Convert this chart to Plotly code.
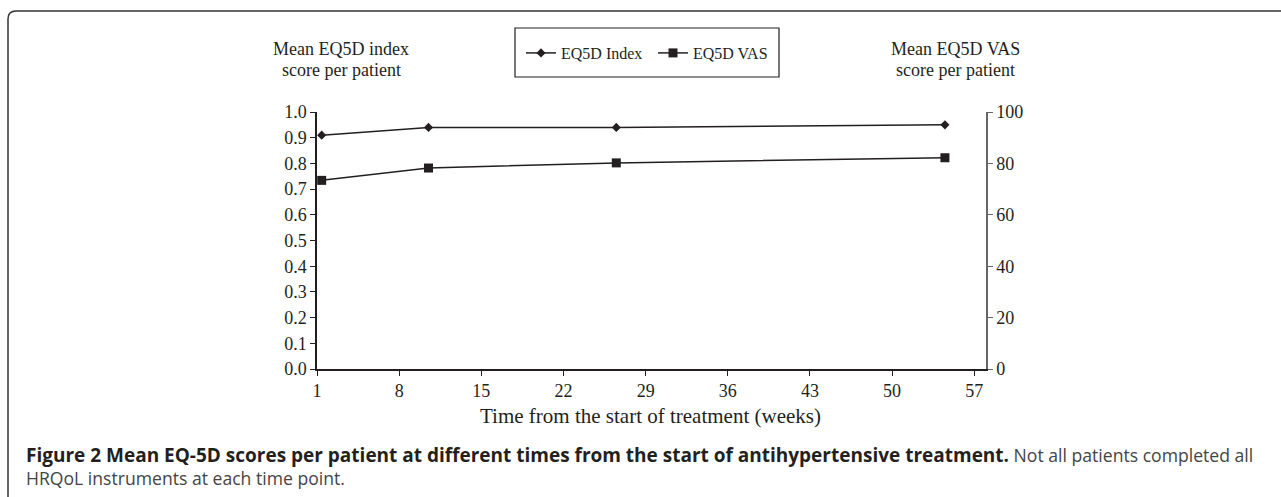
import plotly.graph_objects as go

# Data
weeks = [1.4, 10.5, 26.5, 54.5]
eq5d_index = [0.91, 0.94, 0.94, 0.95]
eq5d_vas = [73.4, 78.2, 80.2, 82.2]
x_ticks = [1, 8, 15, 22, 29, 36, 43, 50, 57]
y_left_ticks = [0.0, 0.1, 0.2, 0.3, 0.4, 0.5, 0.6, 0.7, 0.8, 0.9, 1.0]
y_right_ticks = [0, 20, 40, 60, 80, 100]

W, H = 1281, 497
L, R, T, B = 317, 295, 112, 128
PW, PH = W - L - R, H - T - B

def px(x):
    return (x - L) / PW

def py(y):
    return 1 - (y - T) / PH

SERIF = "Liberation Serif"
INK = "#231f20"

fig = go.Figure()
fig.add_trace(go.Scatter(
    x=weeks, y=eq5d_index, name="EQ5D Index", mode="lines+markers",
    line=dict(color=INK, width=1.5),
    marker=dict(symbol="diamond", size=7, color=INK),
))
fig.add_trace(go.Scatter(
    x=weeks, y=eq5d_vas, name="EQ5D VAS", mode="lines+markers", yaxis="y2",
    line=dict(color=INK, width=1.5),
    marker=dict(symbol="square", size=9, color=INK),
))

fig.update_layout(
    width=W, height=H,
    margin=dict(l=L, r=R, t=T, b=B, pad=0),
    paper_bgcolor="white", plot_bgcolor="white",
    font=dict(family=SERIF, size=18, color=INK),
    xaxis=dict(range=[1, 58], tickvals=x_ticks, ticktext=[str(v) for v in x_ticks],
               showgrid=False, zeroline=False, showline=True, linecolor=INK, linewidth=1.5,
               ticks="outside", ticklen=5, tickcolor=INK, tickfont=dict(size=18)),
    yaxis=dict(range=[0, 1], tickvals=y_left_ticks, ticktext=[f"{v:.1f}" for v in y_left_ticks],
               showgrid=False, zeroline=False, showline=True, linecolor=INK, linewidth=1.5,
               ticks="outside", ticklen=5, tickcolor=INK, tickfont=dict(size=18)),
    yaxis2=dict(range=[0, 100], tickvals=y_right_ticks, overlaying="y", side="right",
                showgrid=False, zeroline=False, showline=True, linecolor="#666666", linewidth=1.5,
                ticks="outside", ticklen=5, tickcolor="#666666", tickfont=dict(size=18)),
    showlegend=True,
    legend=dict(orientation="h", x=px(521), y=py(36), xanchor="left", yanchor="top",
                bgcolor="rgba(0,0,0,0)", borderwidth=0, font=dict(family=SERIF, size=16, color=INK),
                itemwidth=30, entrywidth=87, entrywidthmode="pixels"),
)

# legend box
fig.add_shape(type="rect", xref="paper", yref="paper",
              x0=px(515), x1=px(779), y0=py(77), y1=py(28),
              line=dict(color=INK, width=1.2), fillcolor="rgba(0,0,0,0)")

# outer border: left line + top line with rounded corner
r = 8
path = (f"M {px(8)} {py(H)} L {px(8)} {py(11 + r)} "
        f"Q {px(8)} {py(11)} {px(8 + r)} {py(11)} L {px(W)} {py(11)}")
fig.add_shape(type="path", xref="paper", yref="paper", path=path,
              line=dict(color="#333333", width=1.5))

# axis titles (two lines each)
for cx, lines in [(341, ["Mean EQ5D index", "score per patient"]),
                  (955, ["Mean EQ5D VAS", "score per patient"])]:
    for cy, txt in zip([49, 70], lines):
        fig.add_annotation(xref="paper", yref="paper", x=px(cx), y=py(cy),
                           xanchor="center", yanchor="middle", text=txt, showarrow=False,
                           font=dict(family=SERIF, size=18, color=INK))

fig.add_annotation(xref="paper", yref="paper", x=px(650), y=py(416), xanchor="center", yanchor="middle",
                   text="Time from the start of treatment (weeks)", showarrow=False,
                   font=dict(family=SERIF, size=21, color=INK))

# caption
fig.add_annotation(xref="paper", yref="paper", x=px(24), y=py(466), xanchor="left", yanchor="middle",
                   text=("<b><span style='font-size:19px'>Figure 2 Mean EQ-5D scores per patient at different times from the start of "
                         "antihypertensive treatment.</span></b> "
                         "<span style='color:#444'>Not all patients completed all</span><br>"
                         "<span style='color:#444'>HRQoL instruments at each time point.</span>"),
                   showarrow=False, align="left",
                   font=dict(family="Open Sans", size=17.6, color=INK))

fig.write_html("out.html", config={"displayModeBar": False},
               post_script="document.body.style.margin='0';")
